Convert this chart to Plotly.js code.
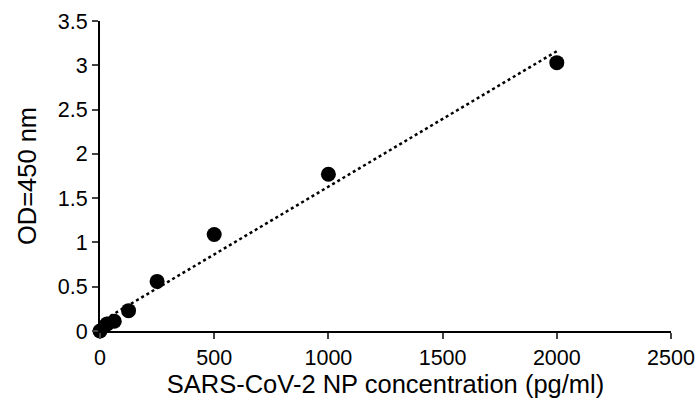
<!DOCTYPE html>
<html>
<head>
<meta charset="utf-8">
<script src="https://cdn.plot.ly/plotly-3.0.1.min.js"></script>
<style>html,body{margin:0;padding:0;background:#fff;}#chart{width:699px;height:412px;}</style>
</head>
<body>
<div id="chart"></div>
<script>
const concentration = [0, 31.25, 62.5, 125, 250, 500, 1000, 2000];
const od450 = [0, 0.08, 0.11, 0.23, 0.56, 1.09, 1.77, 3.03];
const xTicks = [0, 500, 1000, 1500, 2000, 2500];
const yTicks = [0, 0.5, 1, 1.5, 2, 2.5, 3, 3.5];

// linear least-squares trendline
const n = concentration.length;
const mx = concentration.reduce((a, b) => a + b, 0) / n;
const my = od450.reduce((a, b) => a + b, 0) / n;
let sxy = 0, sxx = 0;
for (let i = 0; i < n; i++) { sxy += (concentration[i] - mx) * (od450[i] - my); sxx += (concentration[i] - mx) ** 2; }
const slope = sxy / sxx, intercept = my - slope * mx;
const xMin = Math.min(...concentration), xMax = Math.max(...concentration);

const traces = [
  {x: [xMin, xMax], y: [intercept + slope * xMin, intercept + slope * xMax], mode: 'lines',
   line: {color: '#000', width: 2.5, dash: 'dot'}, hoverinfo: 'skip', cliponaxis: false},
  {x: concentration, y: od450, mode: 'markers', marker: {color: '#000', size: 15}, cliponaxis: false}
];
const tickFont = {family: 'Liberation Sans, Arial, sans-serif', size: 21.5, color: '#000'};
const titleFont = {family: 'Liberation Sans, Arial, sans-serif', size: 25.5, color: '#000'};
const layout = {
  width: 699, height: 412, showlegend: false,
  paper_bgcolor: '#fff', plot_bgcolor: '#fff',
  margin: {l: 100, r: 28, t: 21, b: 81},
  font: tickFont,
  xaxis: {range: [0, 2500], tickvals: xTicks, ticks: 'outside', ticklen: 6, tickwidth: 2,
    showline: true, linecolor: '#000', linewidth: 2, showgrid: false, zeroline: false,
    tickfont: tickFont, title: {text: 'SARS-CoV-2 NP concentration (pg/ml)', font: titleFont, standoff: 5}},
  yaxis: {range: [0, 3.5], tickvals: yTicks, ticktext: yTicks.map(String), ticks: 'outside', ticklen: 6, tickwidth: 2,
    showline: true, linecolor: '#000', linewidth: 2, showgrid: false, zeroline: false,
    tickfont: tickFont, title: {text: 'OD=450 nm', font: titleFont, standoff: 14}}
};
Plotly.newPlot('chart', traces, layout, {displayModeBar: false, staticPlot: true});
</script>
</body>
</html>
